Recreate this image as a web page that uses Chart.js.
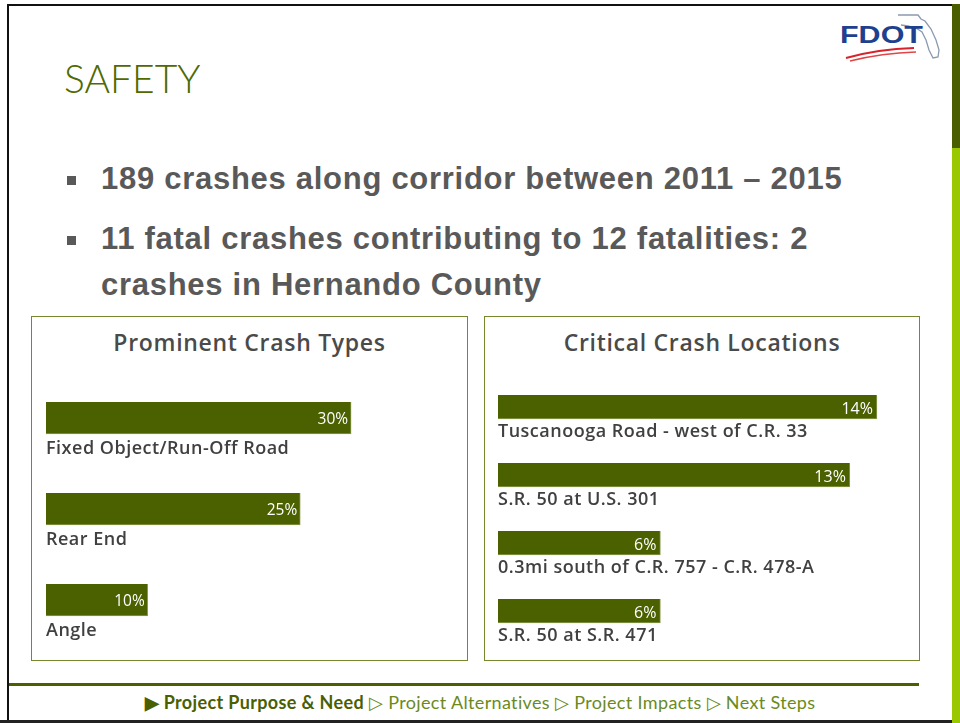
<!DOCTYPE html>
<html>
<head>
<meta charset="utf-8">
<script src="https://cdn.jsdelivr.net/npm/chart.js@4/dist/chart.umd.min.js"></script>
<style>
  html, body { margin: 0; padding: 0; background: #fff; }
  #slide { position: relative; width: 960px; height: 723px; overflow: hidden; background: #fff; }
  .abs { position: absolute; }
  #title { left: 64px; top: 55px; font: 300 39px Lato, sans-serif; color: #4f6a00; }
  .bullet { left: 101px; font: bold 31px "Liberation Sans", Arial, sans-serif; letter-spacing: 0.72px; color: #595959; white-space: nowrap; }
  .sq { left: 67px; width: 9px; height: 9px; background: #595959; }
  .panel { border: 1px solid #76882e; box-sizing: border-box; }
  .ptitle { font: 600 23px "Open Sans", sans-serif; letter-spacing: 0.7px; color: #4a4a4a; text-align: center; white-space: nowrap; }
  #footer { left: 0; width: 960px; top: 691px; text-align: center; font: 18px Lato, sans-serif; letter-spacing: 0.35px; color: #6a8a1e; white-space: nowrap; }
  #footer b { color: #4a6000; }
</style>
</head>
<body>
<div id="slide">
  <!-- slide frame -->
  <div class="abs" style="left:7px;top:4px;width:946px;height:2px;background:#111"></div>
  <div class="abs" style="left:7px;top:4px;width:2px;height:719px;background:#111"></div>
  <div class="abs" style="left:0;top:720px;width:953px;height:3px;background:#222"></div>
  <div class="abs" style="left:952px;top:4px;width:8px;height:144px;background:#4a5e00"></div>
  <div class="abs" style="left:952px;top:148px;width:8px;height:575px;background:#99c800"></div>

  <!-- logo -->
  <svg class="abs" style="left:838px;top:12px" width="108" height="52" viewBox="0 0 108 52">
    <path d="M60 3 L80 3 L83 7 L87 9 L93 17 L98 28 L101 38 L100 45 L95 46 L91 38 L88 28 L84 20 L78 16 L70 14 L63 13" fill="none" stroke="#8a9ab0" stroke-width="1.3"/>
    <text x="2" y="31" font-family="Liberation Sans, Arial" font-weight="bold" font-size="23" fill="#1f3f8f" textLength="83" lengthAdjust="spacingAndGlyphs">FDOT</text>
    <path d="M8 46 Q40 37 76 36" fill="none" stroke="#d8222a" stroke-width="2"/>
    <path d="M12 49 Q44 41 78 40" fill="none" stroke="#e04545" stroke-width="1.4"/>
  </svg>

  <div id="title" class="abs">SAFETY</div>

  <div class="abs sq" style="top:176px"></div>
  <div class="abs bullet" style="top:161px">189 crashes along corridor between 2011 – 2015</div>
  <div class="abs sq" style="top:236px"></div>
  <div class="abs bullet" style="top:221px">11 fatal crashes contributing to 12 fatalities: 2</div>
  <div class="abs bullet" style="top:267px">crashes in Hernando County</div>

  <div class="abs panel" style="left:31px;top:316px;width:437px;height:345px"></div>
  <div class="abs ptitle" style="left:31px;width:437px;top:326px">Prominent Crash Types</div>
  <div class="abs panel" style="left:484px;top:316px;width:436px;height:345px"></div>
  <div class="abs ptitle" style="left:484px;width:436px;top:326px">Critical Crash Locations</div>

  <canvas id="typesChart" class="abs" style="left:32px;top:317px" width="434" height="342"></canvas>
  <canvas id="locChart" class="abs" style="left:485px;top:317px" width="433" height="342"></canvas>

  <div class="abs" style="left:9px;top:683px;width:910px;height:3px;background:#4a6000"></div>
  <div id="footer" class="abs"><b>&#9654; Project Purpose &amp; Need</b> &#9655; Project Alternatives &#9655; Project Impacts &#9655; Next Steps</div>
</div>

<script>
// crash types (percent of crashes)
var typeLabels = ['Fixed Object/Run-Off Road', 'Rear End', 'Angle'];
var typeValues = [30, 25, 10];

// critical locations (percent of crashes)
var locLabels = ['Tuscanooga Road - west of C.R. 33', 'S.R. 50 at U.S. 301',
	'0.3mi south of C.R. 757 - C.R. 478-A', 'S.R. 50 at S.R. 471'];
var locValues = [14, 13, 6, 6];

var barColor = '#4b6100';

// draws the value inside the bar end and the category name under each bar
var barText = {
	id: 'barText',
	afterDatasetsDraw: function (chart, args, opts) {
		var ctx = chart.ctx,
			meta = chart.getDatasetMeta(0),
			labels = chart.data.labels,
			values = chart.data.datasets[0].data;
		ctx.save();
		meta.data.forEach(function (bar, i) {
			ctx.textBaseline = 'middle';
			ctx.fillStyle = '#ffffff';
			ctx.textAlign = 'right';
			ctx.font = opts.valueFont;
			ctx.letterSpacing = '0px';
			ctx.fillText(values[i] + '%', bar.x - opts.inset, bar.y + 2);
			ctx.fillStyle = '#404040';
			ctx.textAlign = 'left';
			ctx.font = opts.labelFont;
			ctx.letterSpacing = '0.5px';
			ctx.fillText(labels[i], bar.base, bar.y + opts.labelOffset);
		});
		ctx.restore();
	}
};

function makeChart(id, labels, values, max, thickness, padding, textOpts) {
	return new Chart(document.getElementById(id), {
		type: 'bar',
		data: {
			labels: labels,
			datasets: [{
				data: values,
				backgroundColor: barColor,
				borderColor: '#8a9a50',
				borderWidth: { right: 1, bottom: 1 },
				borderSkipped: 'start',
				barThickness: thickness
			}]
		},
		options: {
			indexAxis: 'y',
			responsive: false,
			animation: false,
			layout: { padding: padding },
			scales: {
				x: { display: false, min: 0, max: max },
				y: { display: false }
			},
			plugins: {
				legend: { display: false },
				tooltip: { enabled: false },
				barText: textOpts
			}
		},
		plugins: [barText]
	});
}

makeChart('typesChart', typeLabels, typeValues, 40, 32,
	{ left: 14, right: 13.2, top: 55.5, bottom: 13.5 },
	{ valueFont: '15.5px "Open Sans", sans-serif', labelFont: '600 18px "Open Sans", sans-serif', labelOffset: 30.5, inset: 3 });

makeChart('locChart', locLabels, locValues, 15, 24,
	{ left: 13, right: 14, top: 56, bottom: 14 },
	{ valueFont: '16px "Open Sans", sans-serif', labelFont: '600 18px "Open Sans", sans-serif', labelOffset: 25, inset: 4 });
</script>
</body>
</html>
